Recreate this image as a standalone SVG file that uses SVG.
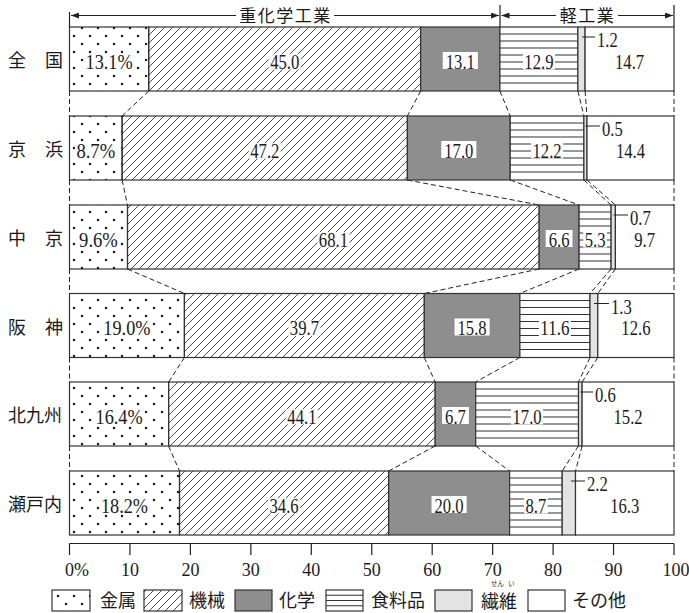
<svg xmlns="http://www.w3.org/2000/svg" width="689" height="613" viewBox="0 0 689 613">
<style>
.num{font-family:"Liberation Serif","Times New Roman",serif;font-size:20px;fill:#1a1a1a}
.ax{font-family:"Liberation Serif","Times New Roman",serif;font-size:18px;fill:#1a1a1a}
.lab{font-family:"Noto Sans CJK JP","Noto Sans",sans-serif;font-size:18px;fill:#1a1a1a}
.hd{font-family:"Noto Sans CJK JP","Noto Sans",sans-serif;font-size:17px;fill:#1a1a1a;letter-spacing:1.5px}
.ruby{font-family:"Noto Sans CJK JP",sans-serif;font-size:6.5px;fill:#1a1a1a}
.seg{stroke:#333;stroke-width:1.2}
.metal{fill:url(#dots)}
.mach{fill:url(#hatch)}
.chem{fill:#8e8e8e}
.food{fill:#fff}
.fib{fill:#e3e3e3}
.oth{fill:#fff}
.fl{stroke:#333;stroke-width:1;fill:none}
.dash{stroke:#222;stroke-width:1;stroke-dasharray:5 3;fill:none}
.ln{stroke:#222;stroke-width:1.2;fill:none}
.ld{stroke:#222;stroke-width:1;fill:none}
.bg{fill:#fff}
</style>
<defs>
<pattern id="dots" patternUnits="userSpaceOnUse" x="69" y="0" width="16" height="16">
<circle cx="5" cy="4" r="1.2" fill="#111"/>
<circle cx="13" cy="12" r="1.2" fill="#111"/>
</pattern>
<pattern id="hatch" patternUnits="userSpaceOnUse" width="8" height="8">
<path d="M-2,2 L2,-2 M0,8 L8,0 M6,10 L10,6" stroke="#222" stroke-width="0.8"/>
</pattern>
<marker id="arr" viewBox="0 0 8 6" refX="8" refY="3" markerWidth="8" markerHeight="6" markerUnits="userSpaceOnUse" orient="auto-start-reverse">
<path d="M0,0 L8,3 L0,6 z" fill="#222"/>
</marker>
</defs>
<rect width="689" height="613" fill="#fff"/>

<g id="header">
<path class="ln" d="M69.5,12 V27 M500,5 V27 M674,5 V27"/>
<line class="ln" x1="71" y1="15.5" x2="499" y2="15.5" marker-start="url(#arr)" marker-end="url(#arr)"/>
<line class="ln" x1="501.5" y1="15.5" x2="673" y2="15.5" marker-start="url(#arr)" marker-end="url(#arr)"/>
<rect class="bg" x="236" y="6" width="98" height="19"/>
<text class="hd" x="285.5" y="22" text-anchor="middle">重化学工業</text>
<rect class="bg" x="556" y="6" width="62" height="19"/>
<text class="hd" x="587.5" y="22" text-anchor="middle">軽工業</text>
</g>

<g id="connectors">
<path class="dash" d="M69.5,91 V116 M148.7,91 L122.1,116 M420.7,91 L407.4,116 M499.9,91 L510.2,116 M577.9,91 L583.9,116 M585.1,91 L587,116 M674,91 V116"/>
<path class="dash" d="M69.5,180 V205 M122.1,180 L127.5,205 M407.4,180 L539.2,205 M510.2,180 L579.1,205 M583.9,180 L611.1,205 M587,180 L615.4,205 M674,180 V205"/>
<path class="dash" d="M69.5,269 V293.5 M127.5,269 L184.4,293.5 M539.2,269 L424.3,293.5 M579.1,269 L519.9,293.5 M611.1,269 L590,293.5 M615.4,269 L597.8,293.5 M674,269 V293.5"/>
<path class="dash" d="M69.5,357.5 V382 M184.4,357.5 L168.6,382 M424.3,357.5 L435.2,382 M519.9,357.5 L475.7,382 M590,357.5 L578.5,382 M597.8,357.5 L582.1,382 M674,357.5 V382"/>
<path class="dash" d="M69.5,446 V471 M168.6,446 L179.5,471 M435.2,446 L388.7,471 M475.7,446 L509.6,471 M578.5,446 L562.2,471 M582.1,446 L575.5,471 M674,446 V471"/>
</g>

<g id="row-zenkoku">
<text class="lab" x="8" y="67">全</text><text class="lab" x="45" y="67">国</text>
<rect class="seg metal" x="69.5" y="27" width="79.2" height="64"/>
<rect class="seg mach" x="148.7" y="27" width="272" height="64"/>
<rect class="seg chem" x="420.7" y="27" width="79.2" height="64"/>
<rect class="seg food" x="499.9" y="27" width="78" height="64"/>
<path class="fl" d="M499.9,34H577.9M499.9,41H577.9M499.9,48H577.9M499.9,55H577.9M499.9,62H577.9M499.9,69H577.9M499.9,76H577.9M499.9,83H577.9"/>
<rect class="seg fib" x="577.9" y="27" width="7.2" height="64"/>
<rect class="seg oth" x="585.1" y="27" width="88.9" height="64"/>
<rect class="bg" x="84.05" y="54" width="50.1" height="15.5"/>
<text class="num" x="109.1" y="68.5" text-anchor="middle" textLength="47.1" lengthAdjust="spacingAndGlyphs">13.1%</text>
<rect class="bg" x="268.65" y="54" width="32.1" height="15.5"/>
<text class="num" x="284.7" y="68.5" text-anchor="middle" textLength="29.1" lengthAdjust="spacingAndGlyphs">45.0</text>
<rect class="bg" x="442.75" y="52" width="35.1" height="17"/>
<text class="num" x="460.3" y="68.5" text-anchor="middle" textLength="29.1" lengthAdjust="spacingAndGlyphs">13.1</text>
<rect class="bg" x="522.85" y="54" width="32.1" height="15.5"/>
<text class="num" x="538.9" y="68.5" text-anchor="middle" textLength="29.1" lengthAdjust="spacingAndGlyphs">12.9</text>
<line class="ld" x1="582" y1="37" x2="595" y2="37"/>
<text class="num" x="597" y="47" textLength="20.8" lengthAdjust="spacingAndGlyphs">1.2</text>
<text class="num" x="629.6" y="68.5" text-anchor="middle" textLength="29.1" lengthAdjust="spacingAndGlyphs">14.7</text>
</g>

<g id="row-keihin">
<text class="lab" x="8" y="156">京</text><text class="lab" x="45" y="156">浜</text>
<rect class="seg metal" x="69.5" y="116" width="52.6" height="64"/>
<rect class="seg mach" x="122.1" y="116" width="285.3" height="64"/>
<rect class="seg chem" x="407.4" y="116" width="102.8" height="64"/>
<rect class="seg food" x="510.2" y="116" width="73.7" height="64"/>
<path class="fl" d="M510.2,123H583.9M510.2,130H583.9M510.2,137H583.9M510.2,144H583.9M510.2,151H583.9M510.2,158H583.9M510.2,165H583.9M510.2,172H583.9"/>
<rect class="seg fib" x="583.9" y="116" width="3.1" height="64"/>
<rect class="seg oth" x="587" y="116" width="87" height="64"/>
<rect class="bg" x="74.9" y="143" width="41.8" height="15.5"/>
<text class="num" x="95.8" y="157.5" text-anchor="middle" textLength="38.8" lengthAdjust="spacingAndGlyphs">8.7%</text>
<rect class="bg" x="248.75" y="143" width="32.1" height="15.5"/>
<text class="num" x="264.8" y="157.5" text-anchor="middle" textLength="29.1" lengthAdjust="spacingAndGlyphs">47.2</text>
<rect class="bg" x="441.25" y="141" width="35.1" height="17"/>
<text class="num" x="458.8" y="157.5" text-anchor="middle" textLength="29.1" lengthAdjust="spacingAndGlyphs">17.0</text>
<rect class="bg" x="531.05" y="143" width="32.1" height="15.5"/>
<text class="num" x="547.1" y="157.5" text-anchor="middle" textLength="29.1" lengthAdjust="spacingAndGlyphs">12.2</text>
<line class="ld" x1="585.5" y1="126" x2="600" y2="126"/>
<text class="num" x="602" y="136" textLength="20.8" lengthAdjust="spacingAndGlyphs">0.5</text>
<text class="num" x="630.5" y="157.5" text-anchor="middle" textLength="29.1" lengthAdjust="spacingAndGlyphs">14.4</text>
</g>

<g id="row-chukyo">
<text class="lab" x="8" y="245">中</text><text class="lab" x="45" y="245">京</text>
<rect class="seg metal" x="69.5" y="205" width="58" height="64"/>
<rect class="seg mach" x="127.5" y="205" width="411.7" height="64"/>
<rect class="seg chem" x="539.2" y="205" width="39.9" height="64"/>
<rect class="seg food" x="579.1" y="205" width="32" height="64"/>
<path class="fl" d="M579.1,212H611.1M579.1,219H611.1M579.1,226H611.1M579.1,233H611.1M579.1,240H611.1M579.1,247H611.1M579.1,254H611.1M579.1,261H611.1"/>
<rect class="seg fib" x="611.1" y="205" width="4.3" height="64"/>
<rect class="seg oth" x="615.4" y="205" width="58.6" height="64"/>
<rect class="bg" x="77.6" y="232" width="41.8" height="15.5"/>
<text class="num" x="98.5" y="246.5" text-anchor="middle" textLength="38.8" lengthAdjust="spacingAndGlyphs">9.6%</text>
<rect class="bg" x="317.35" y="232" width="32.1" height="15.5"/>
<text class="num" x="333.4" y="246.5" text-anchor="middle" textLength="29.1" lengthAdjust="spacingAndGlyphs">68.1</text>
<rect class="bg" x="545.7" y="230" width="26.8" height="17"/>
<text class="num" x="559.1" y="246.5" text-anchor="middle" textLength="20.8" lengthAdjust="spacingAndGlyphs">6.6</text>
<rect class="bg" x="583.2" y="232" width="23.8" height="15.5"/>
<text class="num" x="595.1" y="246.5" text-anchor="middle" textLength="20.8" lengthAdjust="spacingAndGlyphs">5.3</text>
<line class="ld" x1="613.5" y1="215" x2="628" y2="215"/>
<text class="num" x="630" y="225" textLength="20.8" lengthAdjust="spacingAndGlyphs">0.7</text>
<text class="num" x="644.7" y="246.5" text-anchor="middle" textLength="20.8" lengthAdjust="spacingAndGlyphs">9.7</text>
</g>

<g id="row-hanshin">
<text class="lab" x="8" y="333.5">阪</text><text class="lab" x="45" y="333.5">神</text>
<rect class="seg metal" x="69.5" y="293.5" width="114.9" height="64"/>
<rect class="seg mach" x="184.4" y="293.5" width="239.9" height="64"/>
<rect class="seg chem" x="424.3" y="293.5" width="95.6" height="64"/>
<rect class="seg food" x="519.9" y="293.5" width="70.1" height="64"/>
<path class="fl" d="M519.9,300.5H590M519.9,307.5H590M519.9,314.5H590M519.9,321.5H590M519.9,328.5H590M519.9,335.5H590M519.9,342.5H590M519.9,349.5H590"/>
<rect class="seg fib" x="590" y="293.5" width="7.8" height="64"/>
<rect class="seg oth" x="597.8" y="293.5" width="76.2" height="64"/>
<rect class="bg" x="101.85" y="320.5" width="50.1" height="15.5"/>
<text class="num" x="126.9" y="335" text-anchor="middle" textLength="47.1" lengthAdjust="spacingAndGlyphs">19.0%</text>
<rect class="bg" x="288.35" y="320.5" width="32.1" height="15.5"/>
<text class="num" x="304.4" y="335" text-anchor="middle" textLength="29.1" lengthAdjust="spacingAndGlyphs">39.7</text>
<rect class="bg" x="454.55" y="318.5" width="35.1" height="17"/>
<text class="num" x="472.1" y="335" text-anchor="middle" textLength="29.1" lengthAdjust="spacingAndGlyphs">15.8</text>
<rect class="bg" x="538.85" y="320.5" width="32.1" height="15.5"/>
<text class="num" x="554.9" y="335" text-anchor="middle" textLength="29.1" lengthAdjust="spacingAndGlyphs">11.6</text>
<line class="ld" x1="594" y1="303.5" x2="609" y2="303.5"/>
<text class="num" x="611" y="313.5" textLength="20.8" lengthAdjust="spacingAndGlyphs">1.3</text>
<text class="num" x="635.9" y="335" text-anchor="middle" textLength="29.1" lengthAdjust="spacingAndGlyphs">12.6</text>
</g>

<g id="row-kitakyushu">
<text class="lab" x="8" y="422">北九州</text>
<rect class="seg metal" x="69.5" y="382" width="99.1" height="64"/>
<rect class="seg mach" x="168.6" y="382" width="266.6" height="64"/>
<rect class="seg chem" x="435.2" y="382" width="40.5" height="64"/>
<rect class="seg food" x="475.7" y="382" width="102.8" height="64"/>
<path class="fl" d="M475.7,389H578.5M475.7,396H578.5M475.7,403H578.5M475.7,410H578.5M475.7,417H578.5M475.7,424H578.5M475.7,431H578.5M475.7,438H578.5"/>
<rect class="seg fib" x="578.5" y="382" width="3.6" height="64"/>
<rect class="seg oth" x="582.1" y="382" width="91.9" height="64"/>
<rect class="bg" x="94.05" y="409" width="50.1" height="15.5"/>
<text class="num" x="119.1" y="423.5" text-anchor="middle" textLength="47.1" lengthAdjust="spacingAndGlyphs">16.4%</text>
<rect class="bg" x="285.85" y="409" width="32.1" height="15.5"/>
<text class="num" x="301.9" y="423.5" text-anchor="middle" textLength="29.1" lengthAdjust="spacingAndGlyphs">44.1</text>
<rect class="bg" x="442.1" y="407" width="26.8" height="17"/>
<text class="num" x="455.5" y="423.5" text-anchor="middle" textLength="20.8" lengthAdjust="spacingAndGlyphs">6.7</text>
<rect class="bg" x="511.05" y="409" width="32.1" height="15.5"/>
<text class="num" x="527.1" y="423.5" text-anchor="middle" textLength="29.1" lengthAdjust="spacingAndGlyphs">17.0</text>
<line class="ld" x1="580.5" y1="392" x2="593" y2="392"/>
<text class="num" x="595" y="402" textLength="20.8" lengthAdjust="spacingAndGlyphs">0.6</text>
<text class="num" x="628.1" y="423.5" text-anchor="middle" textLength="29.1" lengthAdjust="spacingAndGlyphs">15.2</text>
</g>

<g id="row-setouchi">
<text class="lab" x="8" y="511">瀬戸内</text>
<rect class="seg metal" x="69.5" y="471" width="110" height="64"/>
<rect class="seg mach" x="179.5" y="471" width="209.2" height="64"/>
<rect class="seg chem" x="388.7" y="471" width="120.9" height="64"/>
<rect class="seg food" x="509.6" y="471" width="52.6" height="64"/>
<path class="fl" d="M509.6,478H562.2M509.6,485H562.2M509.6,492H562.2M509.6,499H562.2M509.6,506H562.2M509.6,513H562.2M509.6,520H562.2M509.6,527H562.2"/>
<rect class="seg fib" x="562.2" y="471" width="13.3" height="64"/>
<rect class="seg oth" x="575.5" y="471" width="98.5" height="64"/>
<rect class="bg" x="99.45" y="498" width="50.1" height="15.5"/>
<text class="num" x="124.5" y="512.5" text-anchor="middle" textLength="47.1" lengthAdjust="spacingAndGlyphs">18.2%</text>
<rect class="bg" x="268.05" y="498" width="32.1" height="15.5"/>
<text class="num" x="284.1" y="512.5" text-anchor="middle" textLength="29.1" lengthAdjust="spacingAndGlyphs">34.6</text>
<rect class="bg" x="431.55" y="496" width="35.1" height="17"/>
<text class="num" x="449.1" y="512.5" text-anchor="middle" textLength="29.1" lengthAdjust="spacingAndGlyphs">20.0</text>
<rect class="bg" x="524" y="498" width="23.8" height="15.5"/>
<text class="num" x="535.9" y="512.5" text-anchor="middle" textLength="20.8" lengthAdjust="spacingAndGlyphs">8.7</text>
<line class="ld" x1="571" y1="481" x2="585" y2="481"/>
<text class="num" x="587" y="491" textLength="20.8" lengthAdjust="spacingAndGlyphs">2.2</text>
<text class="num" x="624.7" y="512.5" text-anchor="middle" textLength="29.1" lengthAdjust="spacingAndGlyphs">16.3</text>
</g>

<g id="axis">
<path class="ln" d="M69.5,543.5 H674 M69.5,543.5 V555 M129.95,543.5 V555 M190.4,543.5 V555 M250.85,543.5 V555 M311.3,543.5 V555 M371.75,543.5 V555 M432.2,543.5 V555 M492.65,543.5 V555 M553.1,543.5 V555 M613.55,543.5 V555 M674,543.5 V555"/>
<text class="ax" x="65" y="575.5">0%</text>
<text class="ax" x="129.95" y="575.5" text-anchor="middle">10</text>
<text class="ax" x="190.4" y="575.5" text-anchor="middle">20</text>
<text class="ax" x="250.85" y="575.5" text-anchor="middle">30</text>
<text class="ax" x="311.3" y="575.5" text-anchor="middle">40</text>
<text class="ax" x="371.75" y="575.5" text-anchor="middle">50</text>
<text class="ax" x="432.2" y="575.5" text-anchor="middle">60</text>
<text class="ax" x="492.65" y="575.5" text-anchor="middle">70</text>
<text class="ax" x="553.1" y="575.5" text-anchor="middle">80</text>
<text class="ax" x="613.55" y="575.5" text-anchor="middle">90</text>
<text class="ax" x="676" y="575.5" text-anchor="middle">100</text>
</g>

<g id="legend">
<rect class="seg metal" x="52" y="590" width="38" height="21"/>
<text class="lab" x="100" y="607">金属</text>
<rect class="seg mach" x="144" y="590" width="38" height="21"/>
<text class="lab" x="189" y="607">機械</text>
<rect class="seg chem" x="235" y="590" width="37" height="21"/>
<text class="lab" x="279" y="607">化学</text>
<rect class="seg food" x="326" y="590" width="37" height="21"/>
<path class="fl" d="M326,595.25H363M326,600.5H363M326,605.75H363"/>
<text class="lab" x="371" y="607">食料品</text>
<rect class="seg fib" x="435" y="590" width="37" height="21"/>
<text class="ruby" x="491" y="586">せん</text>
<text class="ruby" x="508" y="586">い</text>
<text class="lab" x="481" y="608">繊維</text>
<rect class="seg oth" x="528" y="590" width="37" height="21"/>
<text class="lab" x="572" y="607">その他</text>
</g>
</svg>
